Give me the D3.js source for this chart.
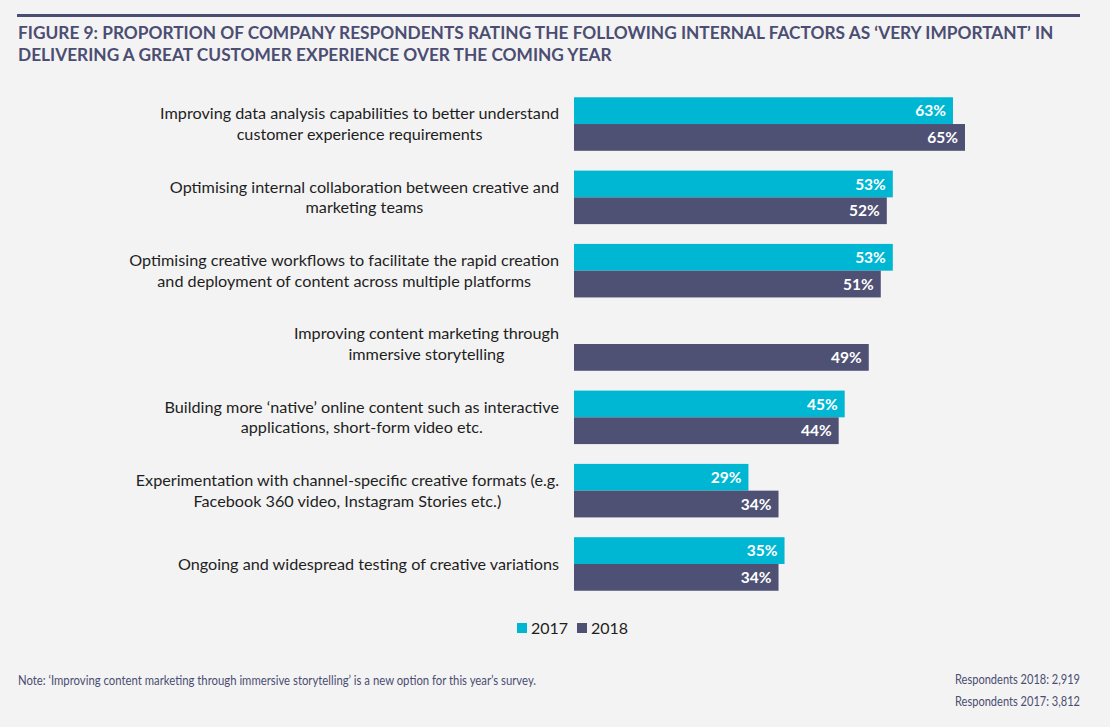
<!DOCTYPE html>
<html><head><meta charset="utf-8">
<script src="https://cdn.jsdelivr.net/npm/d3@7"></script>
<style>
html,body{margin:0;padding:0;background:#f3f3f3;}
svg{display:block;}
</style></head>
<body>
<script>
const categories = [
  ["Improving data analysis capabilities to better understand","customer experience requirements"],
  ["Optimising internal collaboration between creative and","marketing teams"],
  ["Optimising creative workflows to facilitate the rapid creation","and deployment of content across multiple platforms"],
  ["Improving content marketing through","immersive storytelling"],
  ["Building more \u2018native\u2019 online content such as interactive","applications, short-form video etc."],
  ["Experimentation with channel-specific creative formats (e.g.","Facebook 360 video, Instagram Stories etc.)"],
  ["Ongoing and widespread testing of creative variations"]
];
const values2017 = [63, 53, 53, null, 45, 29, 35];
const values2018 = [65, 52, 51, 49, 44, 34, 34];
const seriesNames = ["2017", "2018"];
const titleLines = ["FIGURE 9: PROPORTION OF COMPANY RESPONDENTS RATING THE FOLLOWING INTERNAL FACTORS AS \u2018VERY IMPORTANT\u2019 IN","DELIVERING A GREAT CUSTOMER EXPERIENCE OVER THE COMING YEAR"];
const noteText = "Note: \u2018Improving content marketing through immersive storytelling\u2019 is a new option for this year\u2019s survey.";
const respondents = ["Respondents 2018: 2,919","Respondents 2017: 3,812"];

const W = 1110, H = 727;
const colors = {"2017":"#00b7d3","2018":"#4e5074"};
const dark = "#4b4d72";
const svg = d3.select("body").append("svg").attr("width",W).attr("height",H);
svg.append("rect").attr("width",W).attr("height",H).attr("fill","#f3f3f3");

svg.append("line").attr("x1",17).attr("x2",1080).attr("y1",15.5).attr("y2",15.5)
  .attr("stroke",dark).attr("stroke-width",3);

const tfont = "Lato, 'Open Sans', sans-serif";
svg.append("g").selectAll("text").data(titleLines).join("text")
  .attr("x",18).attr("y",(d,i)=>39+i*22)
  .attr("font-family",tfont).attr("font-weight",700).attr("font-size",17.3)
  .attr("fill",dark).text(d=>d);

const x = d3.scaleLinear().domain([0,65]).range([574,965]);
const y = d3.scaleBand().domain(d3.range(categories.length)).range([87,601]).paddingInner(0.27).paddingOuter(0.14);
const yIn = d3.scaleBand().domain(seriesNames).range([0,y.bandwidth()]);

const groups = svg.append("g").selectAll("g").data(categories).join("g")
  .attr("transform",(d,i)=>`translate(0,${y(i)})`);

groups.each(function(lines,i){
  const g = d3.select(this);
  const cy = y.bandwidth()/2;
  const lh = 20.5;
  const texts = lines.map((t,j)=>g.append("text").attr("y",cy + (j-(lines.length-1)/2)*lh)
      .attr("dy","0.35em").attr("text-anchor","middle")
      .attr("font-family",tfont).attr("font-size",16.2).attr("fill","#1e1e1e").text(t));
  const maxW = d3.max(texts, t=>t.node().getComputedTextLength());
  texts.forEach(t=>t.attr("x",559 - maxW/2));
  [["2017",values2017[i]],["2018",values2018[i]]].forEach(([s,v])=>{
    if(v==null) return;
    g.append("rect").attr("x",x(0)).attr("y",yIn(s)).attr("width",x(v)-x(0)).attr("height",yIn.bandwidth())
      .attr("fill",colors[s]);
    g.append("text").attr("x",x(v)-7).attr("y",yIn(s)+yIn.bandwidth()/2).attr("dy","0.36em")
      .attr("text-anchor","end").attr("font-family",tfont).attr("font-weight",700).attr("font-size",15.5)
      .attr("fill","#ffffff").text(v+"%");
  });
});

// legend
const leg = svg.append("g");
const legX = [517, 577];
seriesNames.forEach((s,i)=>{
  leg.append("rect").attr("x",legX[i]).attr("y",623).attr("width",10).attr("height",10).attr("fill",colors[s]);
  leg.append("text").attr("x",legX[i]+14).attr("y",628).attr("dy","0.36em")
    .attr("font-family",tfont).attr("font-size",16).attr("fill","#1e1e1e").text(s);
});

const nfont = "Lato, 'Open Sans', sans-serif";
svg.append("text").attr("x",18).attr("y",685).attr("font-family",nfont).attr("font-size",13)
  .attr("textLength",518).attr("lengthAdjust","spacingAndGlyphs")
  .attr("fill",dark).text(noteText);
svg.append("g").selectAll("text").data(respondents).join("text")
  .attr("x",955).attr("y",(d,i)=>684+i*22)
  .attr("textLength",125).attr("lengthAdjust","spacingAndGlyphs")
  .attr("font-family",nfont).attr("font-size",13).attr("fill",dark).text(d=>d);
</script>
</body></html>
